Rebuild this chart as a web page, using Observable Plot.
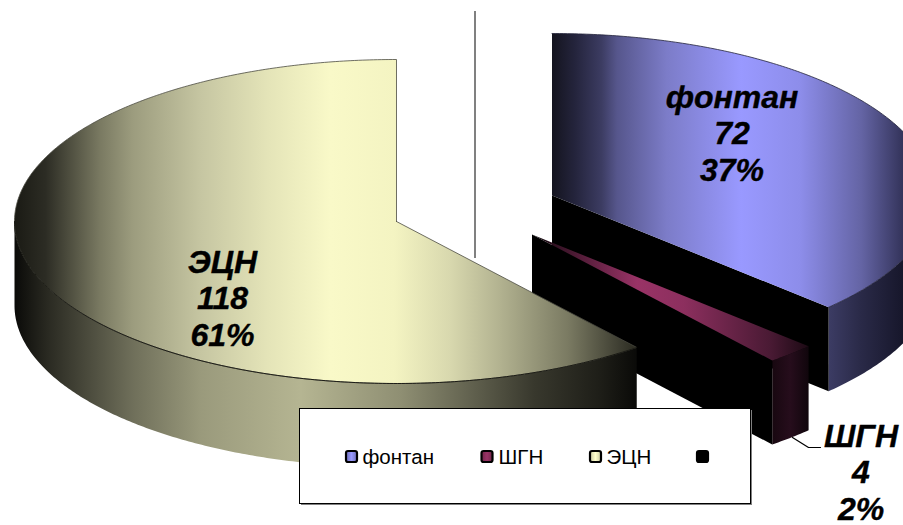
<!DOCTYPE html>
<html>
<head>
<meta charset="utf-8">
<script src="https://cdn.jsdelivr.net/npm/d3@7"></script>
<script src="https://cdn.jsdelivr.net/npm/@observablehq/plot@0.6"></script>
<style>
  html, body { margin: 0; padding: 0; background: #fff; overflow: hidden; }
</style>
</head>
<body>
<div id="chart"></div>
<script>
// Well counts by lift method
const categories = ["фонтан", "ШГН", "ЭЦН", ""];
const counts = [72, 4, 118, 0];
const shares = [37, 2, 61, 0];

// Projection of the tilted pie
const W = 903, H = 525;
const rx = 382, ry = 162, depth = 84;
const apexes = [
  {x: 551.5, y: 195},
  {x: 531.5, y: 234},
  {x: 396, y: 221}
];
const labelAt = [
  {x: 731.5, y: 132},
  {x: 860.5, y: 471},
  {x: 222, y: 297}
];

const slices = d3.pie().sort(null)(counts).slice(0, 3);

const at = (c, a, z = 0) => ({x: c.x + rx * Math.sin(a), y: c.y - ry * Math.cos(a) + z});
const arc = (c, a0, a1, z = 0) => {
  const n = Math.max(2, Math.ceil(Math.abs(a1 - a0) / 0.01));
  return d3.range(n + 1).map((i) => at(c, a0 + (a1 - a0) * i / n, z));
};

// Outer wall: the near half of the rim, extruded downward
const wall = (c, a0, a1) => {
  const lo = Math.max(a0, Math.PI / 2), hi = Math.min(a1, 3 * Math.PI / 2);
  return [...arc(c, lo, hi), ...arc(c, hi, lo, depth)];
};
const topFace = (c, a0, a1) => [c, ...arc(c, a0, a1), c];
const cutFace = (c, a) => {
  const p = at(c, a);
  return [c, p, {x: p.x, y: p.y + depth}, {x: c.x, y: c.y + depth}, c];
};

const gradients = {
  topBlue: [[0, "#14141f"], [0.06, "#24243c"], [0.13, "#3c3c62"], [0.17, "#56568c"], [0.3, "#7c7cc8"], [0.495, "#9999ff"], [0.65, "#8d8dea"], [0.81, "#6464a4"], [0.92, "#33335a"], [1, "#14141f"]],
  sideBlue: [[0, "#3c3c64"], [0.3, "#2a2a48"], [0.72, "#16162a"], [1, "#0a0a14"]],
  topRed: [[0, "#000000"], [0.1, "#3a1428"], [0.38, "#993366"], [0.55, "#8c2f5e"], [0.86, "#4a1a34"], [1, "#1c0a14"]],
  sideRed: [[0, "#180810"], [0.5, "#260d1c"], [1, "#10060c"]],
  topYellow: [[0, "#1a1a14"], [0.05, "#2c2c24"], [0.138, "#7a7a62"], [0.19, "#9c9c7e"], [0.3, "#c6c6a2"], [0.407, "#e4e4b8"], [0.508, "#f9f9c8"], [0.61, "#f4f4c2"], [0.7, "#d8d8ae"], [0.78, "#b2b290"], [0.89, "#7a7a62"], [0.975, "#3c3c30"], [1, "#2a2a20"]],
  sideYellow: [[0, "#0a0a08"], [0.054, "#2a2a22"], [0.138, "#555545"], [0.19, "#6f6f5a"], [0.3, "#9a9a7c"], [0.46, "#b5b592"], [0.62, "#8f8f73"], [0.73, "#636350"], [0.835, "#38382d"], [0.94, "#1e1e18"], [1, "#0a0a08"]],
  swatchBlue: [[0, "#6f6fb8"], [0.5, "#9999ff"], [1, "#6f6fb8"]],
  swatchRed: [[0, "#702548"], [0.5, "#993366"], [1, "#702548"]],
  swatchYellow: [[0, "#c8c8a0"], [0.5, "#ffffcc"], [1, "#c8c8a0"]]
};

const defs = () => {
  const d = d3.create("svg:defs");
  for (const [id, stops] of Object.entries(gradients)) {
    const g = d.append("linearGradient").attr("id", id);
    for (const [o, col] of stops) g.append("stop").attr("offset", o).attr("stop-color", col);
  }
  return d.node();
};

const poly = (pts, fill, stroke = "none", strokeWidth = 1) =>
  Plot.line(pts, {x: "x", y: "y", fill, stroke, strokeWidth, clip: true});

const [blue, red, yellow] = slices;
const cB = apexes[0], cR = apexes[1], cY = apexes[2];

const legendItems = [
  {swatch: 351.5, text: 362, fill: "url(#swatchBlue)", i: 0},
  {swatch: 487, text: 498, fill: "url(#swatchRed)", i: 1},
  {swatch: 595.5, text: 606, fill: "url(#swatchYellow)", i: 2},
  {swatch: 702.5, text: 714, fill: "#000", i: 3}
];

const chart = Plot.plot({
  width: W,
  height: H,
  margin: 0,
  x: {domain: [0, W], range: [0, W], axis: null},
  y: {domain: [0, H], range: [0, H], axis: null},
  style: {background: "#fff"},
  marks: [
    defs,
    // Leader of the empty category
    Plot.ruleX([474.5], {y1: 11, y2: 258, stroke: "#808080", strokeWidth: 2}),

    // фонтан
    poly(wall(cB, blue.startAngle, blue.endAngle), "url(#sideBlue)"),
    poly(cutFace(cB, blue.endAngle), "#000"),
    poly(topFace(cB, blue.startAngle, blue.endAngle), "url(#topBlue)"),
    poly(arc(cB, blue.startAngle, blue.endAngle), "none", "#22223a", 0.8),

    // ШГН
    poly(wall(cR, red.startAngle, red.endAngle), "url(#sideRed)"),
    poly(cutFace(cR, red.endAngle), "#000"),
    poly(topFace(cR, red.startAngle, red.endAngle), "url(#topRed)"),

    // ЭЦН
    poly(wall(cY, yellow.startAngle, yellow.endAngle), "url(#sideYellow)"),
    poly(topFace(cY, yellow.startAngle, yellow.endAngle), "url(#topYellow)"),
    poly(topFace(cY, yellow.startAngle, yellow.endAngle), "none", "#4a4a40", 0.8),
    poly(arc(cY, yellow.startAngle, 3 * Math.PI / 2), "none", "#14140e", 0.9),

    // Leader of the ШГН label
    Plot.line([{x: 792, y: 437}, {x: 808, y: 447}, {x: 820, y: 447}], {x: "x", y: "y", stroke: "#000", strokeWidth: 1.2}),

    // Slice labels
    Plot.text([0, 1, 2], {
      x: (i) => labelAt[i].x,
      y: (i) => labelAt[i].y,
      text: (i) => `${categories[i]}\n${counts[i]}\n${shares[i]}%`,
      fontFamily: "Liberation Sans",
      fontSize: 32,
      fontWeight: "bold",
      fontStyle: "italic",
      lineHeight: 1.14,
      fill: "#000",
      stroke: "#000",
      strokeWidth: 0.4
    }),

    // Legend
    Plot.rect([0], {x1: 301, x2: 752, y1: 410, y2: 505, fill: "#808080"}),
    Plot.rect([0], {x1: 299.5, x2: 750.5, y1: 408.5, y2: 503.5, fill: "#fff", stroke: "#000", strokeWidth: 1}),
    Plot.rect(legendItems, {
      x1: (d) => d.swatch - 5.5,
      x2: (d) => d.swatch + 5.5,
      y1: 451,
      y2: 462,
      fill: "fill",
      stroke: "#000",
      strokeWidth: 2.2,
      rx: 2
    }),
    Plot.text(legendItems, {
      x: "text",
      y: 463,
      text: (d) => categories[d.i],
      textAnchor: "start",
      lineAnchor: "bottom",
      fontFamily: "Liberation Sans",
      fontSize: 20.5,
      fill: "#000"
    })
  ]
});

document.getElementById("chart").append(chart);
</script>
</body>
</html>
